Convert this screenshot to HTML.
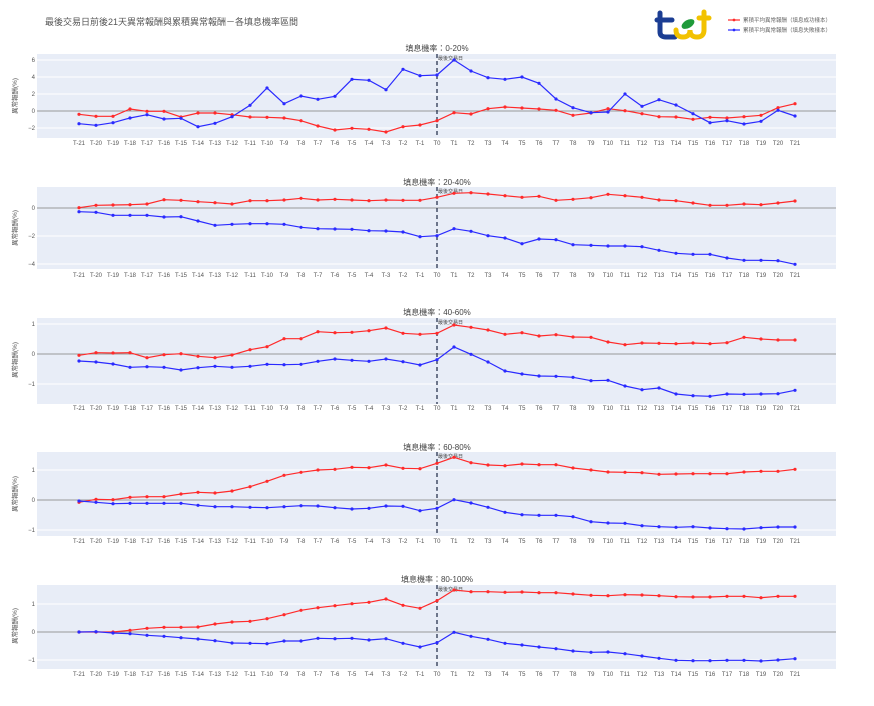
<!DOCTYPE html>
<html><head><meta charset="utf-8"><style>
body{margin:0;background:#fff;}
svg{display:block;font-family:"Liberation Sans","Noto Sans CJK TC",sans-serif;}
.t{font-size:6px;fill:#555;text-anchor:middle}
.y{font-size:6px;fill:#555;text-anchor:end}
.pt{font-size:8px;fill:#444;text-anchor:middle}
.r{fill:none;stroke:#ff2a2a;stroke-width:1.2;marker-start:url(#mr);marker-mid:url(#mr);marker-end:url(#mr)}
.b{fill:none;stroke:#2a2aff;stroke-width:1.2;marker-start:url(#mb);marker-mid:url(#mb);marker-end:url(#mb)}
.bg{fill:#e8edf7}
.g{stroke:#fff;stroke-width:1}
.z{stroke:#999;stroke-width:1}
.d{stroke:#2a3550;stroke-width:1.3;stroke-dasharray:4,3}
.an{font-size:5px;fill:#444}
.at{font-size:6.5px;fill:#555;text-anchor:middle}
</style></head><body>
<svg width="874" height="706" viewBox="0 0 874 706">
<defs>
<marker id="mr" markerWidth="4" markerHeight="4" refX="2" refY="2" markerUnits="userSpaceOnUse"><circle cx="2" cy="2" r="1.6" fill="#ff2a2a"/></marker>
<marker id="mb" markerWidth="4" markerHeight="4" refX="2" refY="2" markerUnits="userSpaceOnUse"><circle cx="2" cy="2" r="1.6" fill="#2a2aff"/></marker>
</defs>
<text x="45" y="25" style="font-size:9px;fill:#555">最後交易日前後21天異常報酬與累積異常報酬－各填息機率區間</text>
<!-- logo -->
<g fill="none" stroke-width="5" stroke-linecap="round">
<path d="M660 13 L660 32 Q660 37 666 37 L675 37" stroke="#1b3d93"/>
<path d="M657 20 L672 20" stroke="#1b3d93"/>
<path d="M676 30 Q676 37 683 37 Q690 37 690 30 Q690 37 697 37 Q704 37 704 30 L704 12" stroke="#f2c200"/>
<path d="M699 18 L709 18" stroke="#f2c200"/>
</g>
<ellipse cx="688" cy="24" rx="7" ry="4" transform="rotate(-30 688 24)" fill="#1f9a3a"/>
<line x1="728" y1="20" x2="740" y2="20" stroke="#ff2a2a" stroke-width="1.2"/><circle cx="734" cy="20" r="1.4" fill="#ff2a2a"/>
<text x="743" y="22" style="font-size:5.5px;fill:#666">累積平均異常報酬（填息成功樣本）</text>
<line x1="728" y1="30" x2="740" y2="30" stroke="#2a2aff" stroke-width="1.2"/><circle cx="734" cy="30" r="1.4" fill="#2a2aff"/>
<text x="743" y="32" style="font-size:5.5px;fill:#666">累積平均異常報酬（填息失敗樣本）</text>

<!-- Panel 1 -->
<text class="pt" x="437" y="51">填息機率：0-20%</text>
<rect class="bg" x="37" y="54" width="799" height="84"/>
<line class="g" x1="37" x2="836" y1="60" y2="60"/><line class="g" x1="37" x2="836" y1="77" y2="77"/><line class="g" x1="37" x2="836" y1="94" y2="94"/><line class="g" x1="37" x2="836" y1="128" y2="128"/>
<line class="z" x1="37" x2="836" y1="111" y2="111"/>
<text class="y" x="35" y="62">6</text><text class="y" x="35" y="79">4</text><text class="y" x="35" y="96">2</text><text class="y" x="35" y="113">0</text><text class="y" x="35" y="130">−2</text>
<text class="at" transform="translate(17 96) rotate(-90)">異常報酬(%)</text>
<line class="d" x1="437" x2="437" y1="54" y2="138"/><text class="an" x="438" y="60">最後交易日</text>
<polyline class="r" points="79,114.3 96,116.3 113,116.3 130,109 147,111.3 164,111.3 181,117 198,113 215,113 232,114.7 250,117 267,117.3 284,118 301,120.7 318,126 335,130 352,128.3 369,129.3 386,132 403,126.7 420,125 437,120.7 454,112.7 471,114 488,108.7 505,107 522,108 539,109 556,110.3 573,115.3 591,113 608,108.7 625,110.7 642,113.7 659,116.7 676,117 693,119.3 710,117.3 727,118 744,116.7 761,115.3 778,107.7 795,103.7"/>
<polyline class="b" points="79,123.7 96,125.3 113,122.7 130,118 147,114.7 164,119 181,118.3 198,126.7 215,123.3 232,116.7 250,105.3 267,88 284,103.7 301,96 318,99.3 335,96.3 352,79.3 369,80.3 386,89.7 403,69.3 420,75.7 437,75 454,60 471,71 488,77.7 505,79.3 522,77 539,83.3 556,99 573,107.7 591,112.7 608,112 625,94 642,106.3 659,99.7 676,105 693,113.7 710,122.7 727,120.7 744,124 761,121.3 778,110.3 795,116"/>
<g class="t" transform="translate(0 145)"><text x="79">T-21</text><text x="96">T-20</text><text x="113">T-19</text><text x="130">T-18</text><text x="147">T-17</text><text x="164">T-16</text><text x="181">T-15</text><text x="198">T-14</text><text x="215">T-13</text><text x="232">T-12</text><text x="250">T-11</text><text x="267">T-10</text><text x="284">T-9</text><text x="301">T-8</text><text x="318">T-7</text><text x="335">T-6</text><text x="352">T-5</text><text x="369">T-4</text><text x="386">T-3</text><text x="403">T-2</text><text x="420">T-1</text><text x="437">T0</text><text x="454">T1</text><text x="471">T2</text><text x="488">T3</text><text x="505">T4</text><text x="522">T5</text><text x="539">T6</text><text x="556">T7</text><text x="573">T8</text><text x="591">T9</text><text x="608">T10</text><text x="625">T11</text><text x="642">T12</text><text x="659">T13</text><text x="676">T14</text><text x="693">T15</text><text x="710">T16</text><text x="727">T17</text><text x="744">T18</text><text x="761">T19</text><text x="778">T20</text><text x="795">T21</text></g>

<!-- Panel 2 -->
<text class="pt" x="437" y="185">填息機率：20-40%</text>
<rect class="bg" x="37" y="187" width="799" height="82"/>
<line class="g" x1="37" x2="836" y1="236" y2="236"/><line class="g" x1="37" x2="836" y1="264" y2="264"/>
<line class="z" x1="37" x2="836" y1="208" y2="208"/>
<text class="y" x="35" y="210">0</text><text class="y" x="35" y="238">−2</text><text class="y" x="35" y="266">−4</text>
<text class="at" transform="translate(17 228) rotate(-90)">異常報酬(%)</text>
<line class="d" x1="437" x2="437" y1="187" y2="269"/><text class="an" x="438" y="193">最後交易日</text>
<polyline class="r" points="79,207.7 96,205.3 113,205 130,204.7 147,204 164,199.7 181,200.3 198,201.7 215,202.7 232,204 250,200.7 267,200.7 284,200 301,198.3 318,200 335,199.3 352,200 369,200.7 386,200 403,200.3 420,200.3 437,197.3 454,193.3 471,192.7 488,194 505,195.7 522,197.3 539,196.3 556,200.3 573,199.3 591,197.7 608,194.3 625,195.7 642,197.3 659,200 676,200.7 693,203 710,205.3 727,205.3 744,204 761,204.7 778,203 795,201"/>
<polyline class="b" points="79,211.7 96,212.3 113,215.3 130,215.3 147,215.3 164,217 181,216.7 198,221 215,225.3 232,224.3 250,223.7 267,223.7 284,224.3 301,227.3 318,228.7 335,229 352,229.3 369,230.7 386,231 403,232 420,236.7 437,235.7 454,228.7 471,231.3 488,235.7 505,238 522,243.7 539,239 556,239.7 573,244.7 591,245.3 608,246 625,246 642,246.7 659,250.3 676,253.3 693,254.3 710,254.3 727,258 744,260.3 761,260.3 778,260.7 795,264.3"/>
<g class="t" transform="translate(0 277)"><text x="79">T-21</text><text x="96">T-20</text><text x="113">T-19</text><text x="130">T-18</text><text x="147">T-17</text><text x="164">T-16</text><text x="181">T-15</text><text x="198">T-14</text><text x="215">T-13</text><text x="232">T-12</text><text x="250">T-11</text><text x="267">T-10</text><text x="284">T-9</text><text x="301">T-8</text><text x="318">T-7</text><text x="335">T-6</text><text x="352">T-5</text><text x="369">T-4</text><text x="386">T-3</text><text x="403">T-2</text><text x="420">T-1</text><text x="437">T0</text><text x="454">T1</text><text x="471">T2</text><text x="488">T3</text><text x="505">T4</text><text x="522">T5</text><text x="539">T6</text><text x="556">T7</text><text x="573">T8</text><text x="591">T9</text><text x="608">T10</text><text x="625">T11</text><text x="642">T12</text><text x="659">T13</text><text x="676">T14</text><text x="693">T15</text><text x="710">T16</text><text x="727">T17</text><text x="744">T18</text><text x="761">T19</text><text x="778">T20</text><text x="795">T21</text></g>

<!-- Panel 3 -->
<text class="pt" x="437" y="315">填息機率：40-60%</text>
<rect class="bg" x="37" y="318" width="799" height="86"/>
<line class="g" x1="37" x2="836" y1="324" y2="324"/><line class="g" x1="37" x2="836" y1="384" y2="384"/>
<line class="z" x1="37" x2="836" y1="354" y2="354"/>
<text class="y" x="35" y="326">1</text><text class="y" x="35" y="356">0</text><text class="y" x="35" y="386">−1</text>
<text class="at" transform="translate(17 360) rotate(-90)">異常報酬(%)</text>
<line class="d" x1="437" x2="437" y1="318" y2="404"/><text class="an" x="438" y="324">最後交易日</text>
<polyline class="r" points="79,355.3 96,352.7 113,353 130,352.7 147,357.7 164,354.7 181,353.7 198,356.3 215,357.7 232,355 250,349.7 267,346.7 284,338.7 301,338.7 318,331.7 335,332.7 352,332.3 369,330.7 386,328 403,333.3 420,334.3 437,333.3 454,325 471,327.3 488,330 505,334.3 522,332.7 539,336 556,334.7 573,337 591,337.3 608,342 625,344.7 642,343 659,343.3 676,343.7 693,343 710,343.7 727,342.7 744,337.3 761,339 778,340 795,340"/>
<polyline class="b" points="79,361 96,362 113,364 130,367.3 147,366.7 164,367.3 181,370 198,367.7 215,366.3 232,367.3 250,366.3 267,364.3 284,364.7 301,364.3 318,361.3 335,359 352,360.3 369,361.3 386,359 403,361.7 420,365 437,359.7 454,347 471,354.3 488,362 505,371 522,374 539,376 556,376.3 573,377.3 591,380.7 608,380.3 625,386 642,389.7 659,388 676,394 693,395.7 710,396.3 727,394 744,394.3 761,394 778,393.7 795,390.3"/>
<g class="t" transform="translate(0 410)"><text x="79">T-21</text><text x="96">T-20</text><text x="113">T-19</text><text x="130">T-18</text><text x="147">T-17</text><text x="164">T-16</text><text x="181">T-15</text><text x="198">T-14</text><text x="215">T-13</text><text x="232">T-12</text><text x="250">T-11</text><text x="267">T-10</text><text x="284">T-9</text><text x="301">T-8</text><text x="318">T-7</text><text x="335">T-6</text><text x="352">T-5</text><text x="369">T-4</text><text x="386">T-3</text><text x="403">T-2</text><text x="420">T-1</text><text x="437">T0</text><text x="454">T1</text><text x="471">T2</text><text x="488">T3</text><text x="505">T4</text><text x="522">T5</text><text x="539">T6</text><text x="556">T7</text><text x="573">T8</text><text x="591">T9</text><text x="608">T10</text><text x="625">T11</text><text x="642">T12</text><text x="659">T13</text><text x="676">T14</text><text x="693">T15</text><text x="710">T16</text><text x="727">T17</text><text x="744">T18</text><text x="761">T19</text><text x="778">T20</text><text x="795">T21</text></g>

<!-- Panel 4 -->
<text class="pt" x="437" y="450">填息機率：60-80%</text>
<rect class="bg" x="37" y="452" width="799" height="84"/>
<line class="g" x1="37" x2="836" y1="470" y2="470"/><line class="g" x1="37" x2="836" y1="530" y2="530"/>
<line class="z" x1="37" x2="836" y1="500" y2="500"/>
<text class="y" x="35" y="472">1</text><text class="y" x="35" y="502">0</text><text class="y" x="35" y="532">−1</text>
<text class="at" transform="translate(17 494) rotate(-90)">異常報酬(%)</text>
<line class="d" x1="437" x2="437" y1="452" y2="536"/><text class="an" x="438" y="458">最後交易日</text>
<polyline class="r" points="79,502.3 96,499.3 113,499.7 130,497.3 147,496.7 164,496.7 181,494 198,492.3 215,493 232,491 250,486.7 267,481.3 284,475.3 301,472.3 318,470 335,469.3 352,467.3 369,467.7 386,465 403,468.3 420,468.7 437,463.3 454,457.3 471,462.7 488,465 505,465.7 522,464 539,464.7 556,464.7 573,468 591,470 608,472 625,472.3 642,472.7 659,474.3 676,474 693,473.7 710,473.7 727,473.7 744,472 761,471.3 778,471.3 795,469.3"/>
<polyline class="b" points="79,501 96,502.3 113,503.7 130,503.3 147,503.3 164,503.3 181,503.3 198,505.3 215,506.7 232,506.7 250,507.3 267,507.7 284,506.7 301,505.7 318,506 335,507.7 352,509 369,508.3 386,506 403,506.3 420,510.7 437,508.3 454,499.7 471,503 488,507.3 505,512.3 522,514.7 539,515.3 556,515.3 573,516.7 591,521.7 608,523 625,523.3 642,525.7 659,526.7 676,527.3 693,526.7 710,528 727,528.7 744,529 761,527.7 778,527 795,527"/>
<g class="t" transform="translate(0 543)"><text x="79">T-21</text><text x="96">T-20</text><text x="113">T-19</text><text x="130">T-18</text><text x="147">T-17</text><text x="164">T-16</text><text x="181">T-15</text><text x="198">T-14</text><text x="215">T-13</text><text x="232">T-12</text><text x="250">T-11</text><text x="267">T-10</text><text x="284">T-9</text><text x="301">T-8</text><text x="318">T-7</text><text x="335">T-6</text><text x="352">T-5</text><text x="369">T-4</text><text x="386">T-3</text><text x="403">T-2</text><text x="420">T-1</text><text x="437">T0</text><text x="454">T1</text><text x="471">T2</text><text x="488">T3</text><text x="505">T4</text><text x="522">T5</text><text x="539">T6</text><text x="556">T7</text><text x="573">T8</text><text x="591">T9</text><text x="608">T10</text><text x="625">T11</text><text x="642">T12</text><text x="659">T13</text><text x="676">T14</text><text x="693">T15</text><text x="710">T16</text><text x="727">T17</text><text x="744">T18</text><text x="761">T19</text><text x="778">T20</text><text x="795">T21</text></g>

<!-- Panel 5 -->
<text class="pt" x="437" y="582">填息機率：80-100%</text>
<rect class="bg" x="37" y="585" width="799" height="84"/>
<line class="g" x1="37" x2="836" y1="604" y2="604"/><line class="g" x1="37" x2="836" y1="660" y2="660"/>
<line class="z" x1="37" x2="836" y1="632" y2="632"/>
<text class="y" x="35" y="606">1</text><text class="y" x="35" y="634">0</text><text class="y" x="35" y="662">−1</text>
<text class="at" transform="translate(17 626) rotate(-90)">異常報酬(%)</text>
<line class="d" x1="437" x2="437" y1="585" y2="669"/><text class="an" x="438" y="591">最後交易日</text>
<polyline class="r" points="79,632 96,632 113,632 130,630.3 147,628.3 164,627.3 181,627.3 198,627 215,624 232,622 250,621.3 267,618.7 284,614.7 301,610.3 318,607.7 335,605.7 352,603.7 369,602.3 386,599 403,605.3 420,608.3 437,600.7 454,590 471,591.7 488,591.7 505,592.3 522,592 539,592.7 556,592.7 573,594 591,595.3 608,595.7 625,594.7 642,595 659,595.7 676,596.7 693,597 710,597 727,596.3 744,596.3 761,597.7 778,596.3 795,596.3"/>
<polyline class="b" points="79,632 96,631.7 113,633 130,633.7 147,635.3 164,636.3 181,637.7 198,639 215,640.7 232,643 250,643.3 267,643.7 284,641 301,641 318,638.3 335,638.7 352,638.3 369,640 386,638.7 403,643.3 420,647 437,642.7 454,632.3 471,636.3 488,639.3 505,643.3 522,645 539,647 556,648.7 573,651 591,652.3 608,652 625,653.7 642,656 659,658.3 676,660.3 693,660.7 710,660.7 727,660.3 744,660.3 761,661 778,660 795,658.7"/>
<g class="t" transform="translate(0 676)"><text x="79">T-21</text><text x="96">T-20</text><text x="113">T-19</text><text x="130">T-18</text><text x="147">T-17</text><text x="164">T-16</text><text x="181">T-15</text><text x="198">T-14</text><text x="215">T-13</text><text x="232">T-12</text><text x="250">T-11</text><text x="267">T-10</text><text x="284">T-9</text><text x="301">T-8</text><text x="318">T-7</text><text x="335">T-6</text><text x="352">T-5</text><text x="369">T-4</text><text x="386">T-3</text><text x="403">T-2</text><text x="420">T-1</text><text x="437">T0</text><text x="454">T1</text><text x="471">T2</text><text x="488">T3</text><text x="505">T4</text><text x="522">T5</text><text x="539">T6</text><text x="556">T7</text><text x="573">T8</text><text x="591">T9</text><text x="608">T10</text><text x="625">T11</text><text x="642">T12</text><text x="659">T13</text><text x="676">T14</text><text x="693">T15</text><text x="710">T16</text><text x="727">T17</text><text x="744">T18</text><text x="761">T19</text><text x="778">T20</text><text x="795">T21</text></g>
</svg>
</body></html>
